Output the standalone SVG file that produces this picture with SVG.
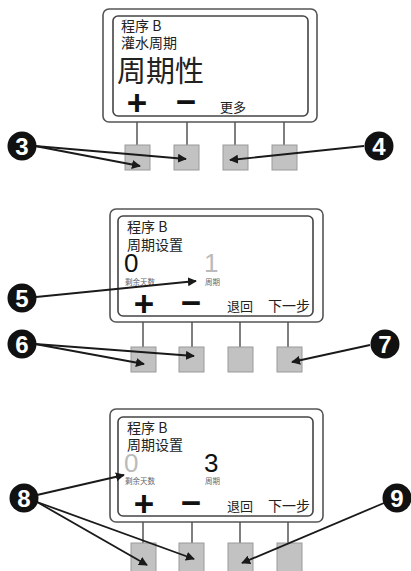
<svg xmlns="http://www.w3.org/2000/svg" width="411" height="571" viewBox="0 0 411 571">
<defs>
<style>
.outer{fill:#fff;stroke:#555;stroke-width:1.6}
.inner{fill:#fff;stroke:#444;stroke-width:1.6}
.stem{stroke:#555;stroke-width:1.5}
.btn{fill:#c2c2c2;stroke:#9a9a9a;stroke-width:1}
.cj{font-family:"Noto Sans CJK SC","Liberation Sans",sans-serif;fill:#222}
.pm{font-family:"Liberation Sans",sans-serif;font-weight:bold;font-size:35px;fill:#111;text-anchor:middle}
.big{font-family:"Liberation Sans",sans-serif;font-size:26px}
.sm{font-family:"Noto Sans CJK SC",sans-serif;font-size:7.5px;fill:#666}
.co circle{fill:#111}
.co text{font-family:"Liberation Sans",sans-serif;font-weight:bold;font-size:24px;fill:#fff;text-anchor:middle}
.arr{stroke:#1a1a1a;stroke-width:1.8;fill:none;marker-end:url(#ah)}
</style>
<marker id="ah" viewBox="0 0 10 10" refX="9" refY="5" markerWidth="5" markerHeight="5" orient="auto" markerUnits="strokeWidth">
<path d="M0,0 L10,5 L0,10 z" fill="#1a1a1a"/>
</marker>
</defs>

<g id="panel1">
<rect class="outer" x="103" y="9" width="214" height="113" rx="6"/>
<rect class="inner" x="113" y="16" width="195" height="100" rx="5"/>
<text class="cj" x="121" y="31" font-size="14">程序 B</text>
<text class="cj" x="121" y="48" font-size="14">灌水周期</text>
<text class="cj" x="117" y="82" font-size="29">周期性</text>
<text class="pm" x="137" y="115">+</text>
<text class="pm" x="186" y="114">−</text>
<text class="cj" x="220" y="112" font-size="13">更多</text>
<line class="stem" x1="137" y1="122" x2="137" y2="145"/>
<line class="stem" x1="187" y1="122" x2="187" y2="145"/>
<line class="stem" x1="235" y1="122" x2="235" y2="145"/>
<line class="stem" x1="284" y1="122" x2="284" y2="145"/>
<rect class="btn" x="125" y="145" width="25" height="25"/>
<rect class="btn" x="174" y="145" width="25" height="25"/>
<rect class="btn" x="223" y="145" width="25" height="25"/>
<rect class="btn" x="272" y="145" width="25" height="25"/>
</g>

<g id="panel2">
<rect class="outer" x="110" y="209" width="213" height="113" rx="6"/>
<rect class="inner" x="118" y="216" width="195" height="100" rx="5"/>
<text class="cj" x="127" y="232" font-size="14">程序 B</text>
<text class="cj" x="127" y="250" font-size="14">周期设置</text>
<text class="big" x="124" y="272" fill="#111">0</text>
<text class="big" x="204" y="272" fill="#bbb">1</text>
<text class="sm" x="125" y="285">剩余天数</text>
<text class="sm" x="205" y="285">周期</text>
<text class="pm" x="144" y="316">+</text>
<text class="pm" x="191" y="315">−</text>
<text class="cj" x="227" y="311" font-size="13">退回</text>
<text class="cj" x="268" y="311" font-size="14">下一步</text>
<line class="stem" x1="143" y1="322" x2="143" y2="347"/>
<line class="stem" x1="192" y1="322" x2="192" y2="347"/>
<line class="stem" x1="240" y1="322" x2="240" y2="347"/>
<line class="stem" x1="288" y1="322" x2="288" y2="347"/>
<rect class="btn" x="131" y="347" width="25" height="25"/>
<rect class="btn" x="179" y="347" width="25" height="25"/>
<rect class="btn" x="228" y="347" width="25" height="25"/>
<rect class="btn" x="277" y="347" width="25" height="25"/>
</g>

<g id="panel3">
<rect class="outer" x="110" y="409" width="213" height="113" rx="6"/>
<rect class="inner" x="118" y="417" width="195" height="99" rx="5"/>
<text class="cj" x="127" y="433" font-size="14">程序 B</text>
<text class="cj" x="127" y="450" font-size="14">周期设置</text>
<text class="big" x="124" y="472" fill="#bbb">0</text>
<text class="big" x="204" y="472" fill="#111">3</text>
<text class="sm" x="125" y="484">剩余天数</text>
<text class="sm" x="205" y="484">周期</text>
<text class="pm" x="144" y="516">+</text>
<text class="pm" x="191" y="515">−</text>
<text class="cj" x="227" y="511" font-size="13">退回</text>
<text class="cj" x="268" y="511" font-size="14">下一步</text>
<line class="stem" x1="143" y1="522" x2="143" y2="543"/>
<line class="stem" x1="192" y1="522" x2="192" y2="543"/>
<line class="stem" x1="240" y1="522" x2="240" y2="543"/>
<line class="stem" x1="288" y1="522" x2="288" y2="543"/>
<rect class="btn" x="131" y="543" width="25" height="30"/>
<rect class="btn" x="179" y="543" width="25" height="30"/>
<rect class="btn" x="228" y="543" width="25" height="30"/>
<rect class="btn" x="277" y="543" width="25" height="30"/>
</g>

<g id="connectors">
<line class="arr" x1="35" y1="146" x2="140" y2="166"/>
<line class="arr" x1="35" y1="146" x2="186" y2="159"/>
<line class="arr" x1="364" y1="146" x2="230" y2="160"/>
<line class="arr" x1="36" y1="297" x2="196" y2="281"/>
<line class="arr" x1="35" y1="344" x2="144" y2="364"/>
<line class="arr" x1="35" y1="344" x2="194" y2="356"/>
<line class="arr" x1="370" y1="345" x2="292" y2="362"/>
<line class="arr" x1="37" y1="495" x2="124" y2="475"/>
<line class="arr" x1="37" y1="502" x2="147" y2="565"/>
<line class="arr" x1="37" y1="502" x2="194" y2="559"/>
<line class="arr" x1="384" y1="503" x2="242" y2="563"/>
</g>

<g id="c3" class="co"><circle cx="22" cy="146" r="14.5"/><text x="22" y="154.5">3</text></g>
<g id="c4" class="co"><circle cx="379" cy="146" r="14.5"/><text x="379" y="154.5">4</text></g>
<g id="c5" class="co"><circle cx="22" cy="298" r="14.5"/><text x="22" y="306.5">5</text></g>
<g id="c6" class="co"><circle cx="22" cy="344" r="14.5"/><text x="22" y="352.5">6</text></g>
<g id="c7" class="co"><circle cx="385" cy="344" r="14.5"/><text x="385" y="352.5">7</text></g>
<g id="c8" class="co"><circle cx="24" cy="498" r="14.5"/><text x="24" y="506.5">8</text></g>
<g id="c9" class="co"><circle cx="397" cy="498" r="14.5"/><text x="397" y="506.5">9</text></g>
</svg>
